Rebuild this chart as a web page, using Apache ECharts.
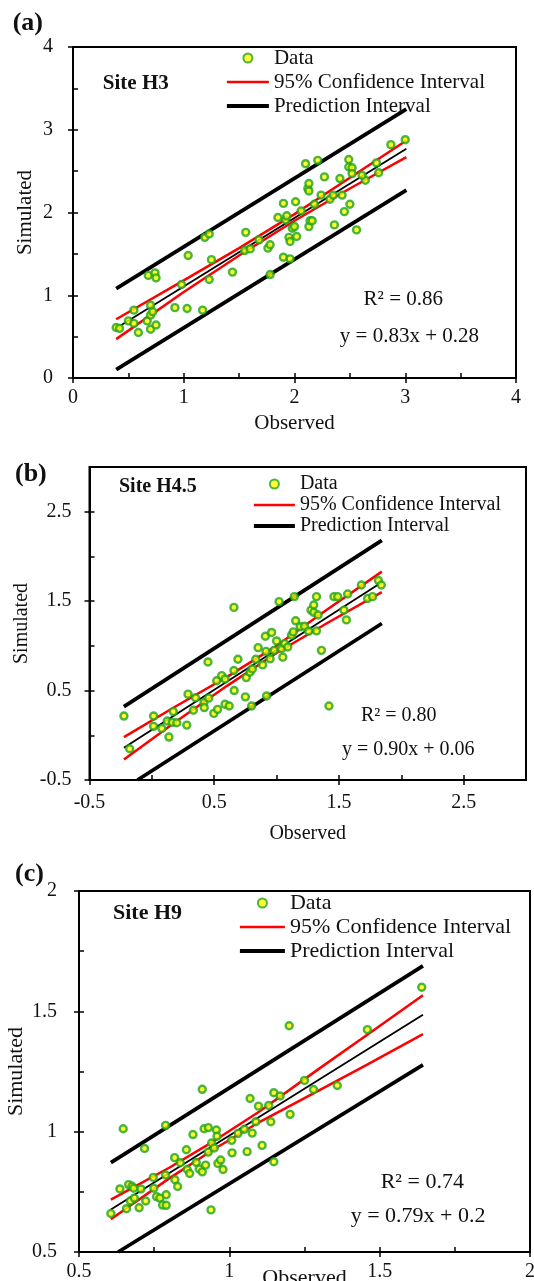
<!DOCTYPE html>
<html>
<head>
<meta charset="utf-8">
<script src="https://cdn.jsdelivr.net/npm/echarts@6/dist/echarts.min.js"></script>
<style>
html,body{margin:0;padding:0;background:#fff;overflow:hidden;}
#chart{width:534px;height:1281px;}
</style>
</head>
<body>
<div id="chart"></div>
<script>
// ---------- Panel (a) Site H3 ----------
const obsA = [0.39,0.42,0.50,0.55,0.55,0.59,0.67,0.68,0.70,0.70,0.70,0.72,0.74,0.75,0.75,0.92,0.98,1.03,1.04,1.17,1.19,1.23,1.23,1.25,1.44,1.56,1.55,1.60,1.68,1.76,1.78,1.78,1.85,1.90,1.90,1.92,1.93,1.95,1.96,1.96,1.98,2.00,2.01,2.02,2.06,2.10,2.12,2.13,2.13,2.13,2.14,2.16,2.18,2.21,2.24,2.27,2.32,2.35,2.36,2.41,2.43,2.45,2.49,2.49,2.50,2.52,2.52,2.56,2.64,2.61,2.74,2.76,2.87,3.00];
const simA = [0.61,0.60,0.69,0.82,0.66,0.55,0.69,1.24,0.88,0.76,0.59,0.80,1.27,1.21,0.64,0.85,1.13,0.84,1.48,0.82,1.70,1.74,1.19,1.43,1.28,1.76,1.54,1.56,1.67,1.57,1.61,1.25,1.94,2.11,1.46,1.91,1.96,1.70,1.65,1.44,1.81,1.83,2.13,1.71,2.02,2.59,2.29,2.26,2.35,1.83,1.90,1.90,2.10,2.63,2.21,2.43,2.16,2.21,1.85,2.41,2.21,2.01,2.64,2.55,2.10,2.54,2.47,1.79,2.39,2.45,2.60,2.48,2.82,2.88];
const ciXA   = [0.39,1.0,1.5,2.0,2.5,3.01];
const ciUpA  = [0.71,1.18,1.57,1.98,2.42,2.87];
const ciLoA  = [0.47,1.04,1.48,1.90,2.29,2.67];
const piXA   = [0.39,3.01];
const piUpA  = [1.08,3.25];
const piLoA  = [0.10,2.27];
const fitXA  = [0.39,3.01];
const fitYA  = [0.60,2.77];

// ---------- Panel (b) Site H4.5 ----------
const obsB = [-0.224,-0.178,0.014,0.014,0.08,0.137,0.123,0.172,0.164,0.20,0.28,0.29,0.333,0.35,0.418,0.42,0.45,0.456,0.497,0.527,0.52,0.56,0.587,0.587,0.62,0.658,0.658,0.66,0.69,0.75,0.757,0.787,0.80,0.806,0.833,0.852,0.888,0.91,0.915,0.92,0.948,0.96,0.98,1.0,1.02,1.04,1.05,1.065,1.09,1.12,1.134,1.142,1.153,1.19,1.224,1.257,1.276,1.298,1.298,1.32,1.32,1.333,1.36,1.42,1.46,1.49,1.54,1.56,1.57,1.68,1.73,1.77,1.817,1.84];
const simB = [0.215,-0.15,0.215,0.10,0.076,-0.02,0.16,0.265,0.144,0.14,0.114,0.46,0.28,0.42,0.366,0.31,0.82,0.415,0.245,0.29,0.61,0.667,0.63,0.347,0.328,1.43,0.724,0.50,0.85,0.43,0.645,0.705,0.328,0.742,0.85,0.98,0.787,1.107,0.938,0.44,0.855,1.15,0.95,1.055,1.495,0.968,0.874,1.025,0.987,1.12,1.156,1.55,1.28,1.213,1.22,1.164,1.40,1.457,1.375,1.168,1.55,1.345,0.95,0.328,1.55,1.55,1.40,1.29,1.58,1.68,1.53,1.55,1.73,1.68];
const ciXB   = [-0.224,0.2,0.6,1.0,1.4,1.844];
const ciUpB  = [-0.02,0.33,0.65,1.00,1.40,1.83];
const ciLoB  = [-0.27,0.16,0.55,0.92,1.25,1.60];
const piUpXB = [-0.224,1.844];
const piUpB  = [0.32,2.18];
const piLoXB = [-0.115,1.844];
const piLoB  = [-0.50,1.25];
const fitXB  = [-0.224,1.844];
const fitYB  = [-0.14,1.71];

// ---------- Panel (c) Site H9 ----------
const obsC = [0.606,0.636,0.647,0.658,0.665,0.671,0.676,0.682,0.684,0.70,0.706,0.718,0.722,0.747,0.749,0.758,0.769,0.778,0.788,0.788,0.79,0.79,0.818,0.819,0.828,0.837,0.857,0.86,0.868,0.879,0.89,0.90,0.91,0.91,0.916,0.921,0.93,0.93,0.939,0.941,0.95,0.957,0.959,0.962,0.971,0.979,1.008,1.009,1.029,1.05,1.059,1.069,1.076,1.088,1.097,1.109,1.131,1.138,1.148,1.148,1.169,1.199,1.202,1.25,1.28,1.359,1.459,1.64];
const simC = [0.66,0.762,1.012,0.68,0.78,0.712,0.773,0.765,0.724,0.684,0.762,0.93,0.712,0.81,0.765,0.73,0.724,0.695,1.026,0.82,0.738,0.694,0.892,0.80,0.772,0.871,0.925,0.843,0.826,0.988,0.872,0.845,1.176,0.833,1.012,0.861,1.017,0.915,0.675,0.953,0.932,1.007,0.981,0.868,0.882,0.843,0.964,0.912,0.993,1.01,0.917,1.138,0.994,1.041,1.106,0.943,1.109,1.041,1.162,0.875,1.148,1.44,1.072,1.213,1.175,1.192,1.424,1.60];
const ciXC   = [0.606,0.8,0.95,1.1,1.3,1.46,1.644];
const ciUpC  = [0.718,0.85,0.962,1.084,1.263,1.404,1.567];
const ciLoC  = [0.636,0.806,0.928,1.04,1.173,1.28,1.405];
const piUpXC = [0.606,1.644];
const piUpC  = [0.871,1.689];
const piLoXC = [0.63,1.644];
const piLoC  = [0.50,1.278];
const fitXC  = [0.606,1.644];
const fitYC  = [0.677,1.486];

// ---------- tick labels ----------
const ticksA = [0,1,2,3,4];
const minorA = [0,0.5,1,1.5,2,2.5,3,3.5,4];
const ticksB = [-0.5,0.5,1.5,2.5];
const minorB = [-0.5,0,0.5,1,1.5,2,2.5];
const ticksC = [0.5,1,1.5,2];
const minorC = [0.5,0.75,1,1.25,1.5,1.75,2];

const legendNames = ['Data','95% Confidence Interval','Prediction Interval'];
const FONT = '"Liberation Serif", "Times New Roman", serif';

function zip(xs, ys){ return xs.map((x,i)=>[x, ys[i]]); }

const panels = [
  {grid:{left:73, top:47, width:443, height:331}, min:0, max:4, interval:1, ticks:ticksA, minor:minorA,
   xMargin:10, yMargin:20, xGap:35, yGap:37, fs:21,
   obs:obsA, sim:simA, ciX:ciXA, ciUp:ciUpA, ciLo:ciLoA, piUpX:piXA, piUp:piUpA, piLoX:piXA, piLo:piLoA, fitX:fitXA, fitY:fitYA,
   legend:{left:225, top:47, itemWidth:42, lh:22, gap:2}},
  {grid:{left:89.5, top:467, width:436.5, height:313}, min:-0.5, max:3, interval:1, ticks:ticksB, minor:minorB,
   xMargin:13, yMargin:18, xGap:44, yGap:58, fs:20,
   obs:obsB, sim:simB, ciX:ciXB, ciUp:ciUpB, ciLo:ciLoB, piUpX:piUpXB, piUp:piUpB, piLoX:piLoXB, piLo:piLoB, fitX:fitXB, fitY:fitYB,
   legend:{left:252, top:474, itemWidth:41, lh:20, gap:1}},
  {grid:{left:79, top:891, width:451, height:361}, min:0.5, max:2, interval:0.5, ticks:ticksC, minor:minorC,
   xMargin:10, yMargin:22, xGap:15, yGap:52, fs:22,
   obs:obsC, sim:simC, ciX:ciXC, ciUp:ciUpC, ciLo:ciLoC, piUpX:piUpXC, piUp:piUpC, piLoX:piLoXC, piLo:piLoC, fitX:fitXC, fitY:fitYC,
   legend:{left:238, top:892, itemWidth:45, lh:22, gap:2}}
];

const grids=[], xAxes=[], yAxes=[], series=[], legends=[];
const hiddenSym = {color:'rgba(0,0,0,0)', borderColor:'rgba(0,0,0,0)', borderWidth:0, opacity:0};
panels.forEach((p, i)=>{
  grids.push(Object.assign({show:true, borderColor:'#000', borderWidth:2, containLabel:false, outerBoundsMode:'none'}, p.grid));
  const mainAxis = (isX)=>({
    type:'value', gridIndex:i, min:p.min, max:p.max, interval:p.interval,
    position: isX ? 'bottom' : 'left',
    axisLine:{show:true, onZero:false, lineStyle:{color:'#000', width:2}},
    axisTick:{show:true, inside:false, length:5, lineStyle:{color:'#000', width:1.5}, customValues:p.ticks},
    axisLabel:{show:true, color:'#111', fontFamily:FONT, fontSize:20, margin: isX ? p.xMargin : p.yMargin, customValues:p.ticks},
    splitLine:{show:false},
    name: isX ? 'Observed' : 'Simulated',
    nameLocation:'middle', nameGap: isX ? p.xGap : p.yGap, nameMoveOverlap:false,
    nameTextStyle:{color:'#111', fontFamily:FONT, fontSize:p.fs}
  });
  const minorAxis = (isX)=>({
    type:'value', gridIndex:i, min:p.min, max:p.max, interval:p.interval/2,
    position: isX ? 'bottom' : 'left',
    axisLine:{show:false, onZero:false},
    axisTick:{show:true, inside:true, length:5, lineStyle:{color:'#000', width:1.5}, customValues:p.minor},
    axisLabel:{show:false},
    splitLine:{show:false}
  });
  xAxes.push(mainAxis(true), minorAxis(true));
  yAxes.push(mainAxis(false), minorAxis(false));
  const xi = 2*i, yi = 2*i;
  series.push({
    type:'line', name:'Prediction Interval', xAxisIndex:xi, yAxisIndex:yi, data:zip(p.piUpX,p.piUp),
    symbol:'none', lineStyle:{color:'#000', width:3.8}, itemStyle:{color:'#000'}, z:2, silent:true
  },{
    type:'line', name:'Prediction Interval', xAxisIndex:xi, yAxisIndex:yi, data:zip(p.piLoX,p.piLo),
    symbol:'none', lineStyle:{color:'#000', width:3.8}, itemStyle:{color:'#000'}, z:2, silent:true
  },{
    type:'line', name:'95% Confidence Interval', xAxisIndex:xi, yAxisIndex:yi, data:zip(p.ciX,p.ciUp),
    symbol:'none', lineStyle:{color:'#ff0000', width:2.5}, itemStyle:{color:'#ff0000'}, z:3, silent:true
  },{
    type:'line', name:'95% Confidence Interval', xAxisIndex:xi, yAxisIndex:yi, data:zip(p.ciX,p.ciLo),
    symbol:'none', lineStyle:{color:'#ff0000', width:2.5}, itemStyle:{color:'#ff0000'}, z:3, silent:true
  },{
    type:'line', name:'Fit', xAxisIndex:xi, yAxisIndex:yi, data:zip(p.fitX,p.fitY),
    symbol:'none', lineStyle:{color:'#000', width:1.8}, itemStyle:{color:'#000'}, z:4, silent:true
  },{
    type:'scatter', name:'Data', xAxisIndex:xi, yAxisIndex:yi, data:zip(p.obs,p.sim),
    symbol:'circle', symbolSize:7, itemStyle:{color:'#ffff00', borderColor:'#1fa31f', borderWidth:2.4}, z:5
  });
  legends.push({
    data:[
      {name:legendNames[0]},
      {name:legendNames[1], itemStyle:hiddenSym, lineStyle:{color:'#ff0000', width:2.5}},
      {name:legendNames[2], itemStyle:hiddenSym, lineStyle:{color:'#000', width:3.8}}
    ],
    orient:'vertical', left:p.legend.left, top:p.legend.top, padding:0,
    itemWidth:p.legend.itemWidth, itemHeight:9, itemGap:p.legend.gap, selectedMode:false,
    textStyle:{color:'#111', fontFamily:FONT, fontSize:p.fs, lineHeight:p.legend.lh}
  });
});

function txt(text, x, y, size, bold){
  return {type:'text', x:x, y:y, silent:true,
    style:{text:text, font:(bold?'bold ':'')+size+'px '+FONT, fill:'#111', verticalAlign:'middle', textVerticalAlign:'middle'}};
}

const graphics = [
  txt('(a)', 12.7, 23.5, 26, true),
  txt('(b)', 15, 474, 26, true),
  txt('(c)', 15, 874, 26, true),
  txt('Site H3', 102.8, 83.4, 21, true),
  txt('Site H4.5', 119, 486.4, 20, true),
  txt('Site H9', 113, 913, 22, true),
  txt('R\u00B2 = 0.86', 363.6, 299.6, 21, false),
  txt('y = 0.83x + 0.28', 339.8, 336.4, 21, false),
  txt('R\u00B2 = 0.80', 361, 715.5, 20, false),
  txt('y = 0.90x + 0.06', 342, 749.6, 20, false),
  txt('R\u00B2 = 0.74', 380.7, 1182, 22, false),
  txt('y = 0.79x + 0.2', 350.7, 1216, 22, false)
];

const chart = echarts.init(document.getElementById('chart'), null, {renderer:'canvas'});
chart.setOption({
  animation:false,
  backgroundColor:'#fff',
  grid:grids, xAxis:xAxes, yAxis:yAxes, series:series, legend:legends,
  graphic:graphics
});
</script>
</body>
</html>
